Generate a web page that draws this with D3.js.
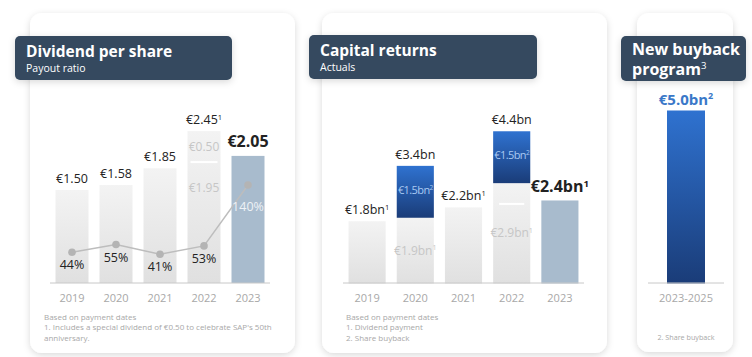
<!DOCTYPE html>
<html><head><meta charset="utf-8">
<script src="https://cdn.jsdelivr.net/npm/d3@7"></script>
<style>body{margin:0;background:#fff;} svg{display:block;font-family:"Open Sans",sans-serif;}</style>
</head><body><svg id="c" width="752" height="357"></svg>
<script>
// ---- data ----
const years = ["2019", "2020", "2021", "2022", "2023"];
const dividendPerShare = [1.50, 1.58, 1.85, 2.45, 2.05];
const specialDividendPerShare = [0, 0, 0, 0.50, 0];
const payoutRatio = [44, 55, 41, 53, 140];
const dividendPaidBn = [1.8, 1.9, 2.2, 2.9, 2.4];
const specialDividendPaidBn = [0, 0, 0, 0.6, 0];
const shareBuybackBn = [0, 1.5, 0, 1.5, 0];
const newProgramPeriod = ["2023-2025"];
const newProgramBn = [5.0];
const footLeft = ["Based on payment dates", "1. Includes a special dividend of €0.50 to celebrate SAP's 50th", "anniversary."];
const footMid = ["Based on payment dates", "1. Dividend payment", "2. Share buyback"];
const footRight = ["2. Share buyback"];

const svg = d3.select("#c");
const defs = svg.append("defs");
const sh = defs.append("filter").attr("id", "sh").attr("x", "-20%").attr("y", "-20%").attr("width", "140%").attr("height", "140%");
sh.append("feDropShadow").attr("dx", 0).attr("dy", 2).attr("stdDeviation", 3.5).attr("flood-color", "#000").attr("flood-opacity", 0.15);
const gg = defs.append("linearGradient").attr("id", "grey").attr("x1", 0).attr("y1", 0).attr("x2", 0).attr("y2", 1);
gg.append("stop").attr("offset", "0%").attr("stop-color", "#f3f3f3");
gg.append("stop").attr("offset", "100%").attr("stop-color", "#e0e0e0");
const bg = defs.append("linearGradient").attr("id", "blue").attr("x1", 0).attr("y1", 0).attr("x2", 0).attr("y2", 1);
bg.append("stop").attr("offset", "0%").attr("stop-color", "#2f72d0");
bg.append("stop").attr("offset", "100%").attr("stop-color", "#1a3c78");
const HL = "#a8bbcd";

// ---- cards ----
[[30, 13, 265, 340], [322, 13, 285, 340], [637, 13, 96, 339]].forEach(c => {
  svg.append("rect").attr("x", c[0]).attr("y", c[1]).attr("width", c[2]).attr("height", c[3])
    .attr("rx", 12).attr("fill", "#fff").attr("filter", "url(#sh)");
});

function header(x, y, w, h) {
  svg.append("rect").attr("x", x).attr("y", y).attr("width", w).attr("height", h).attr("rx", 5)
    .attr("fill", "#34485e").attr("filter", "url(#sh)");
}
function supText(g, x, y, main, sup, o) {
  const t = g.append("text").attr("x", x).attr("y", y).attr("text-anchor", o.anchor || "middle")
    .attr("font-size", o.size).attr("font-weight", o.weight || 400).attr("fill", o.fill || "#222");
  t.append("tspan").text(main);
  if (sup) t.append("tspan").attr("font-size", o.size * 0.6).attr("dy", -o.size * 0.36).text(sup);
  return t;
}

// headers
header(15, 36, 217, 44);
svg.append("text").attr("x", 26).attr("y", 57).attr("font-size", 15.5).attr("font-weight", 700).attr("fill", "#fff").text("Dividend per share");
svg.append("text").attr("x", 26).attr("y", 72).attr("font-size", 10.5).attr("fill", "#fff").text("Payout ratio");
header(309, 35, 228, 44);
svg.append("text").attr("x", 320).attr("y", 56).attr("font-size", 15.5).attr("font-weight", 700).attr("fill", "#fff").text("Capital returns");
svg.append("text").attr("x", 320).attr("y", 71).attr("font-size", 10.5).attr("fill", "#fff").text("Actuals");
header(621, 36, 125, 45);
svg.append("text").attr("x", 632).attr("y", 55).attr("font-size", 16).attr("font-weight", 700).attr("fill", "#fff").text("New buyback");
supText(svg, 632, 75, "program", "3", {size: 16, weight: 700, fill: "#fff", anchor: "start"}).select("tspan:last-child").attr("font-weight", 400);

// ---- left: dividend per share ----
const base = 283;
const xL = d3.scaleBand().domain(years).range([50, 270]).paddingInner(0.25).paddingOuter(0.125);
const yL = d3.scaleLinear().domain([0, 3]).range([base, base - 186]);
const yR = d3.scaleLinear().domain([0, 100]).range([base, base - 70]);
const gL = svg.append("g");
const last = years.length - 1;
years.forEach((yr, i) => {
  const x = xL(yr), w = xL.bandwidth();
  const tot = dividendPerShare[i], sp = specialDividendPerShare[i];
  gL.append("rect").attr("x", x).attr("width", w).attr("y", yL(tot)).attr("height", yL(0) - yL(tot))
    .attr("fill", i === last ? HL : "url(#grey)");
  const bold = i === last;
  supText(gL, x + w / 2, yL(tot) - (bold ? 9 : 7), "€" + tot.toFixed(2), sp ? "1" : null,
    {size: bold ? 16 : 12.5, weight: bold ? 700 : 400});
  if (sp) {
    const split = tot - sp;
    gL.append("line").attr("x1", x + 3).attr("x2", x + w - 3).attr("y1", yL(split)).attr("y2", yL(split))
      .attr("stroke", "#fff").attr("stroke-width", 2);
    gL.append("text").attr("x", x + w / 2).attr("y", (yL(tot) + yL(split)) / 2 + 4.5).attr("text-anchor", "middle")
      .attr("font-size", 12).attr("fill", "#c6c6c6").text("€" + sp.toFixed(2));
    gL.append("text").attr("x", x + w / 2).attr("y", yL(split) + 30).attr("text-anchor", "middle")
      .attr("font-size", 12).attr("fill", "#c6c6c6").text("€" + split.toFixed(2));
  }
});
const line = d3.line().x((d, i) => xL(years[i]) + xL.bandwidth() / 2).y(d => yR(d));
gL.append("path").datum(payoutRatio).attr("d", line).attr("fill", "none").attr("stroke", "#bdbdbd").attr("stroke-width", 1.5);
payoutRatio.forEach((v, i) => {
  const cx = xL(years[i]) + xL.bandwidth() / 2;
  gL.append("circle").attr("cx", cx).attr("cy", yR(v)).attr("r", 3.8).attr("fill", "#b4b4b4");
  gL.append("text").attr("x", cx).attr("y", yR(v) + (i === last ? 26 : 17)).attr("text-anchor", "middle")
    .attr("font-size", 12.5).attr("fill", i === last ? "#eef2f6" : "#222").text(v + "%");
});
gL.append("line").attr("x1", 50).attr("x2", 270).attr("y1", base).attr("y2", base).attr("stroke", "#c8c8c8").attr("stroke-width", 1);
gL.append("g").attr("transform", `translate(0,${base})`)
  .call(d3.axisBottom(xL).tickSize(0).tickPadding(11))
  .call(g => g.select(".domain").remove())
  .call(g => g.selectAll("text").attr("font-size", 11).attr("fill", "#a8a8a8").attr("font-family", "Open Sans"));
footLeft.forEach((t, i) => svg.append("text").attr("x", 44).attr("y", 320 + i * 10.3).attr("font-size", 8).attr("fill", "#a8a8a8").text(t));

// ---- middle: capital returns ----
const xM = d3.scaleBand().domain(years).range([343, 584]).paddingInner(0.23).paddingOuter(0.115);
const yM = d3.scaleLinear().domain([0, 5]).range([283.5, 110.5]);
const gM = svg.append("g");
years.forEach((yr, i) => {
  const x = xM(yr), w = xM.bandwidth(), cx = x + w / 2;
  const dv = dividendPaidBn[i], bb = shareBuybackBn[i], tot = dv + bb;
  gM.append("rect").attr("x", x).attr("width", w).attr("y", yM(dv)).attr("height", yM(0) - yM(dv))
    .attr("fill", i === last ? HL : "url(#grey)");
  if (bb) {
    gM.append("rect").attr("x", x).attr("width", w).attr("y", yM(tot)).attr("height", yM(dv) - yM(tot)).attr("fill", "url(#blue)");
    supText(gM, cx, (yM(tot) + yM(dv)) / 2 + 2, "€" + bb.toFixed(1) + "bn", "2", {size: 11, fill: "#a9c9f2"})
      .attr("letter-spacing", -0.6);
    supText(gM, cx, (yM(dv) + yM(0)) / 2 + 4, "€" + dv.toFixed(1) + "bn", "1", {size: 12, fill: "#c6c6c6"});
    gM.append("text").attr("x", cx).attr("y", yM(tot) - 7).attr("text-anchor", "middle").attr("font-size", 12.5).attr("fill", "#222")
      .text("€" + tot.toFixed(1) + "bn");
  } else {
    const bold = i === last;
    supText(gM, cx, yM(dv) - (bold ? 8 : 7), "€" + dv.toFixed(1) + "bn", "1", {size: bold ? 16 : 12.5, weight: bold ? 700 : 400});
  }
  const sp = specialDividendPaidBn[i];
  if (sp) {
    gM.append("line").attr("x1", x + 6).attr("x2", x + w - 6).attr("y1", yM(dv - sp)).attr("y2", yM(dv - sp))
      .attr("stroke", "#fff").attr("stroke-width", 2);
  }
});
gM.append("line").attr("x1", 343).attr("x2", 584).attr("y1", base).attr("y2", base).attr("stroke", "#c8c8c8");
gM.append("g").attr("transform", `translate(0,${base})`)
  .call(d3.axisBottom(xM).tickSize(0).tickPadding(11))
  .call(g => g.select(".domain").remove())
  .call(g => g.selectAll("text").attr("font-size", 11).attr("fill", "#a8a8a8").attr("font-family", "Open Sans"));
footMid.forEach((t, i) => svg.append("text").attr("x", 346).attr("y", 320 + i * 10.3).attr("font-size", 8).attr("fill", "#a8a8a8").text(t));

// ---- right: new buyback program ----
const xN = d3.scaleBand().domain(newProgramPeriod).range([648, 724]).paddingInner(0).paddingOuter(0.5);
const gN = svg.append("g");
newProgramPeriod.forEach((p, i) => {
  const x = xN(p), w = xN.bandwidth(), v = newProgramBn[i];
  gN.append("rect").attr("x", x).attr("width", w).attr("y", yM(v)).attr("height", yM(0) - yM(v)).attr("fill", "url(#blue)");
  supText(gN, x + w / 2, yM(v) - 6, "€" + v.toFixed(1) + "bn", "2", {size: 15, weight: 700, fill: "#3a78c8"});
});
gN.append("line").attr("x1", 648).attr("x2", 724).attr("y1", base).attr("y2", base).attr("stroke", "#c8c8c8");
gN.append("g").attr("transform", `translate(0,${base})`)
  .call(d3.axisBottom(xN).tickSize(0).tickPadding(11))
  .call(g => g.select(".domain").remove())
  .call(g => g.selectAll("text").attr("font-size", 11).attr("fill", "#a8a8a8").attr("font-family", "Open Sans"));
footRight.forEach(t => svg.append("text").attr("x", 686).attr("y", 340).attr("text-anchor", "middle").attr("font-size", 7.2).attr("fill", "#a8a8a8").text(t));
</script></body></html>
